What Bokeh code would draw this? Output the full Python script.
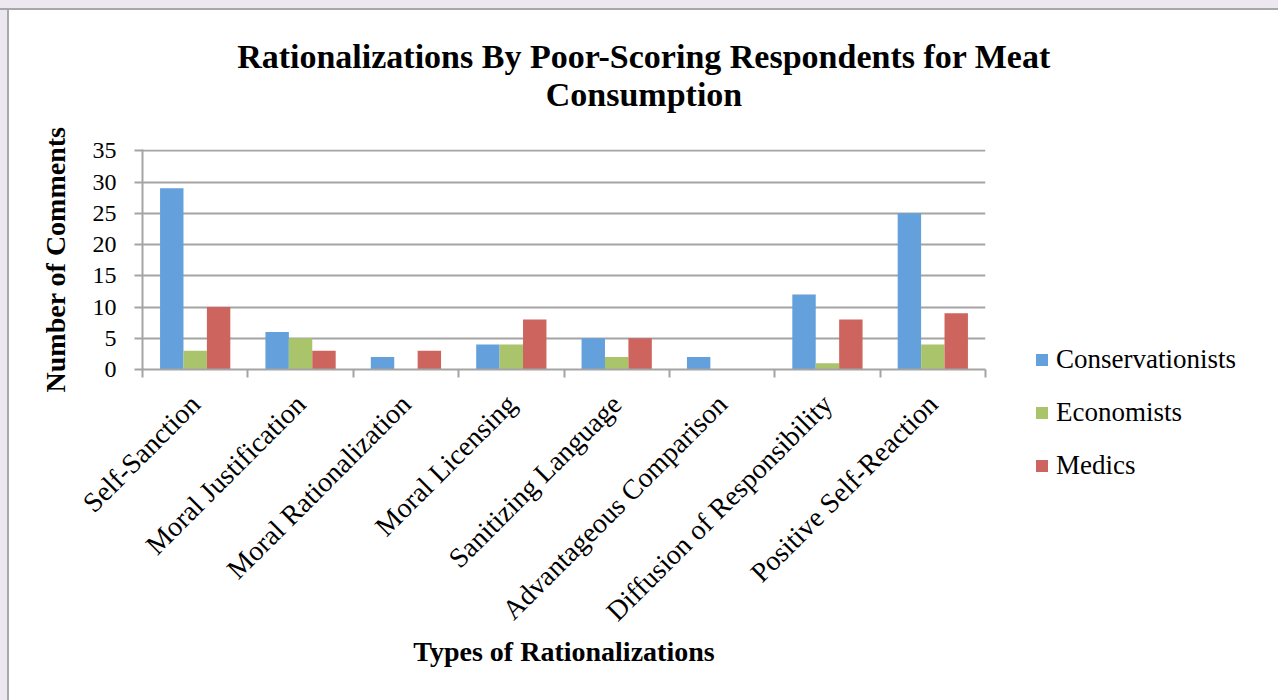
import math

from bokeh.embed import file_html
from bokeh.layouts import column, row
from bokeh.models import (ColumnDataSource, Div, FixedTicker, Label, Legend,
                          LegendItem, LinearAxis, Range1d)
from bokeh.plotting import figure
from bokeh.resources import INLINE
from bokeh.transform import dodge

# ---- data ---------------------------------------------------------------
categories = [
    "Self-Sanction",
    "Moral Justification",
    "Moral Rationalization",
    "Moral Licensing",
    "Sanitizing Language",
    "Advantageous Comparison",
    "Diffusion of Responsibility",
    "Positive Self-Reaction",
]
conservationists = [29, 6, 2, 4, 5, 2, 12, 25]
economists = [3, 5, 0, 4, 2, 0, 1, 4]
medics = [10, 3, 3, 8, 5, 0, 8, 9]

series_names = ["Conservationists", "Economists", "Medics"]
series_values = [conservationists, economists, medics]
y_ticks = [0, 5, 10, 15, 20, 25, 30, 35]

title_lines = ["Rationalizations By Poor-Scoring Respondents for Meat", "Consumption"]
x_title = "Types of Rationalizations"
y_title = "Number of Comments"

# ---- styling ------------------------------------------------------------
FONT = "Liberation Serif"
COLORS = ["#63A0DC", "#AAC46C", "#CD655E"]
GRID = "#A4A4A4"
BACKDROP = "#ECE7F1"
FRAME_LINE = "#A8A8A8"

PAGE_W, PAGE_H = 1278, 700
STRIP_L, STRIP_T = 9, 10                 # lavender margin around the chart sheet
CHART_W, CHART_H = PAGE_W - STRIP_L, PAGE_H - STRIP_T
HEAD_H = 110                             # band holding the two-line title
MAIN_W = 1025
MAIN_H = CHART_H - HEAD_H
SIDE_W = CHART_W - MAIN_W                # band holding the legend
SIDE_GAP = 224                           # empty space above the legend


def blank(width, height):
    """A bare figure used as a drawing surface for the title or legend."""
    f = figure(width=width, height=height, x_range=Range1d(0, width), y_range=Range1d(0, height),
               x_axis_location=None, y_axis_location=None, output_backend="svg",
               toolbar_location=None, min_border=0)
    f.grid.visible = False
    f.outline_line_color = None
    f.background_fill_color = "white"
    f.border_fill_color = "white"
    return f


# ---- main chart ------------------------------------------------------------
n_cat = len(categories)
positions = list(range(n_cat))                  # category centres
bounds = [i - 0.5 for i in range(n_cat + 1)]    # category boundaries

src = ColumnDataSource(dict(pos=positions, **{n: v for n, v in zip(series_names, series_values)}))

p = figure(
    width=MAIN_W, height=MAIN_H,
    x_range=Range1d(-0.5, n_cat - 0.5),
    y_range=Range1d(0, 35.2),
    x_axis_location=None,
    output_backend="svg",
    toolbar_location=None,
    min_border_left=133, min_border_right=49,
    min_border_top=29, min_border_bottom=331,
)
p.outline_line_color = None
p.background_fill_color = "white"
p.border_fill_color = "white"
p.xgrid.visible = False
p.ygrid.grid_line_color = GRID
p.ygrid.grid_line_width = 2

bar_w = 1 / 4.5
for i, (name, color) in enumerate(zip(series_names, COLORS)):
    p.vbar(x=dodge("pos", (i - 1) * bar_w), top=name, width=bar_w,
           source=src, fill_color=color, line_color=None)

# y axis
ya = p.yaxis[0]
ya.ticker = FixedTicker(ticks=y_ticks)
ya.axis_line_color = GRID
ya.axis_line_width = 2
ya.major_tick_line_color = GRID
ya.major_tick_line_width = 2
ya.major_tick_in = 0
ya.major_tick_out = 8
ya.minor_tick_line_color = None
ya.major_label_text_font = FONT
ya.major_label_text_font_size = "24px"
ya.major_label_text_color = "black"
ya.major_label_standoff = 18
ya.axis_label = y_title
ya.axis_label_text_font = FONT
ya.axis_label_text_font_size = "28px"
ya.axis_label_text_font_style = "bold"
ya.axis_label_text_color = "black"
ya.axis_label_standoff = 19

# x axis: tick marks on the category boundaries ...
tick_axis = LinearAxis(
    ticker=FixedTicker(ticks=bounds),
    major_label_overrides={b: "" for b in bounds},
    axis_line_color=GRID, axis_line_width=2,
    major_tick_line_color=GRID, major_tick_line_width=2,
    major_tick_in=0, major_tick_out=8,
    minor_tick_line_color=None,
    major_label_text_font_size="1px", major_label_standoff=0,
)
p.add_layout(tick_axis, "below")

# ... and the slanted category names under them
name_axis = LinearAxis(
    ticker=FixedTicker(ticks=positions),
    major_label_overrides={pos: cat for pos, cat in zip(positions, categories)},
    axis_line_color=None,
    major_tick_line_color=None, major_tick_in=0, major_tick_out=0,
    minor_tick_line_color=None,
    major_label_orientation=math.pi / 4,
    major_label_text_font=FONT,
    major_label_text_font_size="28px",
    major_label_text_color="black",
    major_label_standoff=22,
    axis_label=x_title,
    axis_label_text_font=FONT,
    axis_label_text_font_size="28px",
    axis_label_text_font_style="bold",
    axis_label_text_color="black",
    axis_label_standoff=-5,
)
p.add_layout(name_axis, "below")

# ---- title band ------------------------------------------------------------
head = blank(CHART_W, HEAD_H)
for text, y in zip(title_lines, [64, 26]):
    head.add_layout(Label(
        x=CHART_W / 2, y=y, text=text,
        text_align="center", text_baseline="alphabetic",
        text_font=FONT, text_font_size="34px", text_font_style="bold",
        text_color="black",
    ))

# ---- legend band -----------------------------------------------------------
# zero-sized stand-ins that give the legend its colour keys
side = blank(SIDE_W, MAIN_H - SIDE_GAP)
keys = [side.vbar(x=[0], top=[0], width=0, fill_color=c, line_color=None) for c in COLORS]
legend = Legend(
    items=[LegendItem(label=n, renderers=[r]) for n, r in zip(series_names, keys)],
    location="top_left",
    orientation="vertical",
    glyph_width=15, glyph_height=15,
    label_standoff=7,
    spacing=22,
    padding=0, margin=0,
    border_line_color=None,
    background_fill_alpha=0,
    label_text_font=FONT,
    label_text_font_size="27px",
    label_text_color="black",
)
side.add_layout(legend, "center")
side_gap = Div(width=SIDE_W, height=SIDE_GAP, margin=0, styles={"background-color": "white"})

# ---- page ------------------------------------------------------------------
top_strip = Div(width=PAGE_W, height=STRIP_T, margin=0, styles={
    "background-color": BACKDROP, "border-bottom": f"2px solid {FRAME_LINE}",
    "box-sizing": "border-box"})
left_strip = Div(width=STRIP_L, height=CHART_H, margin=0, styles={
    "background-color": BACKDROP, "border-right": f"2px solid {FRAME_LINE}",
    "box-sizing": "border-box"})

sheet = column(head, row(p, column(side_gap, side, spacing=0), spacing=0), spacing=0)
page = column(top_strip, row(left_strip, sheet, spacing=0), spacing=0)

with open("out.html", "w") as f:
    f.write(file_html(page, INLINE))
